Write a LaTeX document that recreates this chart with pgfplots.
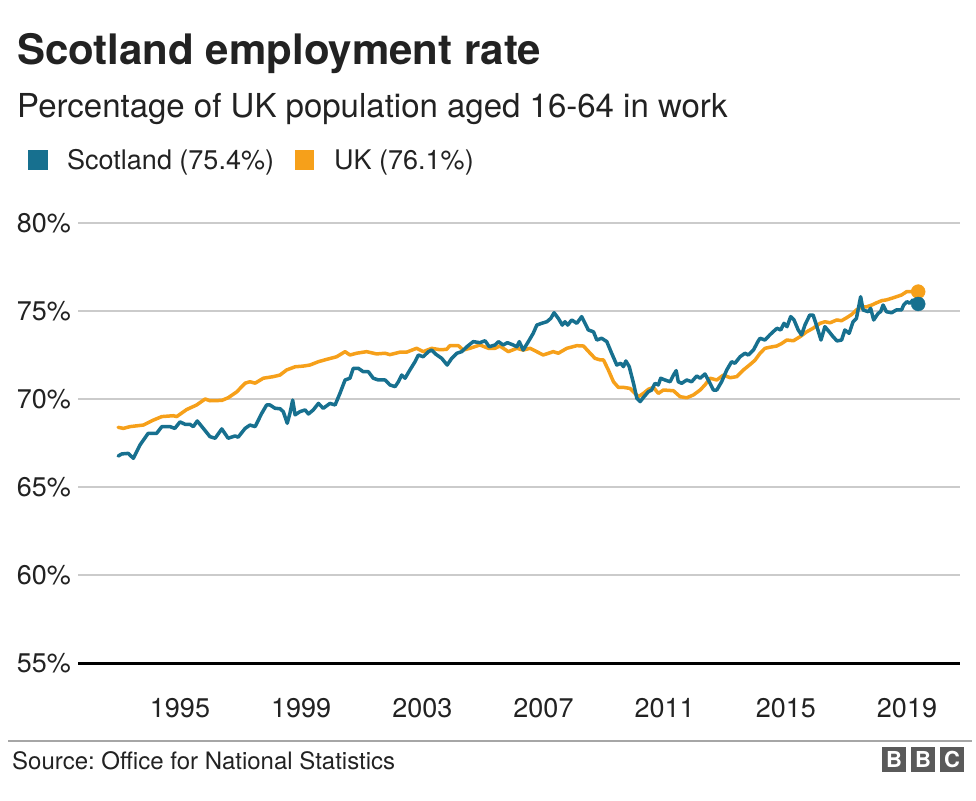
\documentclass[border=0pt]{standalone}
\usepackage{fontspec}
\setmainfont{TeX Gyre Heros}
\usepackage{pgfplots}
\usepackage{pgfplotstable}
\pgfplotsset{compat=1.18}
\definecolor{scot}{HTML}{17708F}
\definecolor{uk}{HTML}{F6A01A}
\definecolor{txt}{HTML}{222222}
\definecolor{gridc}{HTML}{CBCBCB}
\definecolor{logo}{HTML}{5A5A5A}
\frenchspacing

\pgfplotstableread{
year val
1992.96 66.76
1993.08 66.88
1993.29 66.91
1993.46 66.63
1993.68 67.39
1993.95 68.05
1994.23 68.05
1994.40 68.43
1994.67 68.43
1994.83 68.33
1995.00 68.70
1995.17 68.56
1995.33 68.56
1995.44 68.43
1995.57 68.75
1995.77 68.33
1995.99 67.86
1996.16 67.77
1996.38 68.30
1996.59 67.77
1996.82 67.90
1996.92 67.83
1997.15 68.33
1997.31 68.52
1997.48 68.43
1997.70 69.19
1997.86 69.66
1997.97 69.66
1998.14 69.47
1998.30 69.45
1998.41 69.28
1998.54 68.62
1998.63 69.19
1998.72 69.94
1998.80 69.10
1998.96 69.28
1999.13 69.38
1999.24 69.15
1999.40 69.38
1999.57 69.75
1999.73 69.47
1999.95 69.75
2000.12 69.66
2000.28 70.32
2000.45 71.08
2000.61 71.18
2000.72 71.74
2000.89 71.74
2001.05 71.55
2001.22 71.55
2001.38 71.18
2001.55 71.08
2001.77 71.08
2001.93 70.80
2002.10 70.70
2002.21 70.98
2002.32 71.36
2002.43 71.18
2002.59 71.65
2002.76 72.12
2002.87 72.50
2003.03 72.40
2003.20 72.69
2003.31 72.78
2003.44 72.55
2003.64 72.31
2003.82 71.93
2003.97 72.31
2004.14 72.60
2004.30 72.69
2004.47 72.97
2004.68 73.26
2004.90 73.20
2005.07 73.31
2005.21 72.97
2005.40 73.07
2005.51 73.26
2005.67 73.07
2005.81 73.20
2006.00 73.07
2006.12 72.97
2006.20 73.26
2006.33 72.78
2006.50 73.26
2006.66 73.73
2006.78 74.20
2006.94 74.30
2007.11 74.39
2007.24 74.58
2007.35 74.90
2007.49 74.58
2007.62 74.20
2007.71 74.39
2007.80 74.20
2007.93 74.49
2008.10 74.30
2008.26 74.68
2008.37 74.30
2008.48 73.92
2008.65 73.82
2008.76 73.35
2008.92 73.45
2009.09 73.26
2009.25 72.60
2009.42 71.93
2009.55 72.03
2009.64 71.84
2009.72 72.16
2009.83 71.84
2009.97 70.90
2010.08 70.05
2010.19 69.85
2010.32 70.13
2010.46 70.41
2010.57 70.51
2010.68 70.89
2010.79 70.80
2010.87 71.18
2011.01 71.08
2011.18 70.98
2011.29 71.36
2011.38 71.61
2011.45 70.98
2011.56 70.89
2011.73 71.08
2011.89 70.98
2012.06 71.31
2012.17 71.18
2012.33 71.42
2012.44 71.08
2012.61 70.51
2012.72 70.51
2012.88 70.98
2013.05 71.65
2013.21 72.12
2013.32 72.03
2013.49 72.40
2013.65 72.60
2013.76 72.50
2013.93 72.78
2014.09 73.30
2014.15 73.45
2014.31 73.35
2014.47 73.64
2014.58 73.82
2014.71 74.02
2014.83 73.92
2014.94 74.30
2015.04 74.11
2015.16 74.68
2015.27 74.49
2015.41 73.92
2015.52 73.64
2015.63 74.20
2015.79 74.77
2015.90 74.77
2016.01 74.20
2016.16 73.35
2016.29 74.11
2016.43 73.82
2016.56 73.54
2016.69 73.30
2016.84 73.35
2016.95 73.92
2017.09 73.73
2017.22 74.39
2017.33 74.58
2017.47 75.81
2017.55 75.06
2017.72 74.96
2017.80 75.15
2017.90 74.49
2018.05 74.87
2018.13 74.96
2018.21 75.34
2018.32 74.96
2018.49 74.90
2018.65 75.06
2018.82 75.06
2018.89 75.34
2019.00 75.53
2019.09 75.44
2019.20 75.63
2019.37 75.40
}\scotland

\pgfplotstableread{
year val
1992.96 68.39
1993.13 68.33
1993.35 68.43
1993.79 68.52
1994.12 68.80
1994.40 69.00
1994.78 69.05
1994.89 69.00
1995.22 69.40
1995.55 69.66
1995.83 70.00
1995.99 69.90
1996.38 69.92
1996.59 70.07
1996.87 70.40
1997.15 70.90
1997.31 70.98
1997.48 70.90
1997.75 71.18
1998.08 71.27
1998.30 71.36
1998.52 71.65
1998.80 71.83
1999.07 71.87
1999.29 71.93
1999.57 72.12
1999.84 72.25
2000.17 72.40
2000.45 72.69
2000.61 72.50
2000.83 72.60
2001.16 72.69
2001.49 72.56
2001.77 72.60
2001.93 72.52
2002.26 72.66
2002.48 72.66
2002.81 72.88
2003.03 72.69
2003.31 72.88
2003.58 72.80
2003.80 72.82
2003.91 73.03
2004.19 73.03
2004.35 72.78
2004.57 72.88
2004.90 73.07
2005.18 72.88
2005.40 72.88
2005.56 73.01
2005.84 72.69
2006.12 72.88
2006.33 72.78
2006.56 72.88
2006.72 72.74
2006.99 72.50
2007.22 72.63
2007.32 72.69
2007.49 72.60
2007.77 72.88
2008.10 73.03
2008.32 73.01
2008.54 72.60
2008.70 72.31
2008.87 72.22
2008.98 72.22
2009.14 71.65
2009.31 70.98
2009.47 70.66
2009.64 70.66
2009.86 70.60
2010.02 70.32
2010.13 70.13
2010.30 70.32
2010.46 70.55
2010.63 70.66
2010.79 70.32
2010.96 70.51
2011.29 70.47
2011.51 70.13
2011.73 70.07
2011.95 70.23
2012.17 70.51
2012.33 70.80
2012.50 71.18
2012.72 71.08
2012.94 71.36
2013.16 71.21
2013.38 71.27
2013.60 71.65
2013.82 71.96
2013.98 72.20
2014.15 72.60
2014.31 72.88
2014.47 72.94
2014.70 73.01
2014.87 73.16
2015.03 73.35
2015.25 73.31
2015.47 73.54
2015.69 73.82
2015.90 74.02
2016.13 74.30
2016.29 74.39
2016.46 74.33
2016.68 74.49
2016.84 74.45
2017.01 74.62
2017.18 74.81
2017.33 75.06
2017.51 75.24
2017.67 75.24
2017.84 75.34
2018.00 75.47
2018.17 75.59
2018.32 75.63
2018.49 75.72
2018.65 75.81
2018.82 75.91
2018.99 76.10
2019.16 76.10
2019.37 76.10
}\uk

\begin{document}
\begin{tikzpicture}[x=1pt,y=1pt]
\path[use as bounding box] (0,0) rectangle (976,800);
% titles
\node[anchor=base west, inner sep=0, text=txt, font=\fontsize{42}{46}\selectfont\bfseries] at (17,735) {Scotland employment rate};
\node[anchor=base west, inner sep=0, text=txt, font=\fontsize{33}{37}\selectfont] at (17,682) {Percentage of UK population aged 16-64 in work};
% legend
\fill[scot] (28,630) rectangle (48,650);
\node[anchor=base west, inner sep=0, text=txt, font=\fontsize{27}{30}\selectfont] at (67,630) {Scotland (75.4\%)};
\fill[uk] (295,630) rectangle (314,650);
\node[anchor=base west, inner sep=0, text=txt, font=\fontsize{27}{30}\selectfont] at (334,630) {UK (76.1\%)};

\begin{axis}[
  at={(78pt,137pt)}, anchor=south west,
  scale only axis, width=882pt, height=440pt,
  xmin=1991.633, xmax=2020.75, ymin=55, ymax=80,
  clip=false,
  axis line style={draw=none},
  major tick length=0pt,
  ytick={60,65,70,75,80},
  extra y ticks={55},
  extra y tick style={grid style={black, line width=3pt}},
  ymajorgrids,
  grid style={gridc, line width=1.5pt},
  xtick={1995,1999,2003,2007,2011,2015,2019},
  /pgf/number format/assume math mode=true,
  /pgf/number format/1000 sep={},
  yticklabel={\pgfmathprintnumber{\tick}\%},
  xticklabel={\pgfmathprintnumber{\tick}},
  tick label style={font=\fontsize{27}{30}\selectfont, text=txt},
  yticklabel style={anchor=east, inner sep=0pt, xshift=-7pt},
  xticklabel style={anchor=base, inner sep=0pt, yshift=-54pt},
]
\addplot[uk, line width=3.5pt, line join=round, line cap=round, no marks] table[x=year,y=val] {\uk};
\addplot[scot, line width=3.5pt, line join=round, line cap=round, no marks] table[x=year,y=val] {\scotland};
\addplot[uk, only marks, mark=*, mark size=7pt] coordinates {(2019.37,76.1)};
\addplot[scot, only marks, mark=*, mark size=7pt] coordinates {(2019.37,75.4)};
\end{axis}

% footer
\draw[gray!70, line width=1.5pt] (8,59) -- (972,59);
\node[anchor=base west, inner sep=0, text=txt, font=\fontsize{24}{28}\selectfont] at (12,31) {Source: Office for National Statistics};
\foreach \i/\l in {0/B,1/B,2/C} {
  \fill[logo] ({882+\i*29},28) rectangle ({906+\i*29},53);
  \node[text=white, font=\fontsize{22}{24}\selectfont\bfseries, inner sep=0] at ({894+\i*29},40.5) {\l};
}
\end{tikzpicture}
\end{document}
